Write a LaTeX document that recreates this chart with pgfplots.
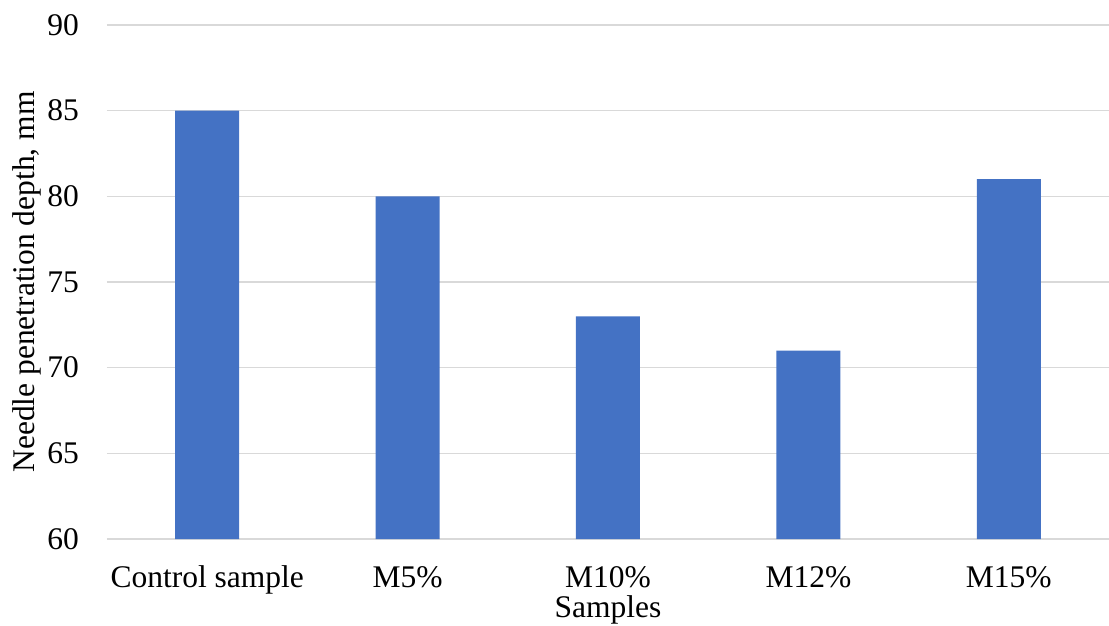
\documentclass[border=0pt]{standalone}
\usepackage{fontspec}
\setmainfont{Liberation Serif}
\usepackage{pgfplots}
\pgfplotsset{compat=1.18}
\definecolor{barblue}{HTML}{4472C4}
\definecolor{gridgray}{HTML}{D9D9D9}
\begin{document}
\fontsize{31.5}{36}\selectfont
\begin{tikzpicture}
\begin{axis}[
    scale only axis,
    width=1002pt, height=514pt,
    ybar, bar width=64pt,
    xmin=-0.5, xmax=4.5,
    ymin=60, ymax=90, ytick={60,65,...,90},
    xtick=data,
    xticklabels={Control sample, M5\%, M10\%, M12\%, M15\%},
    ymajorgrids=true,
    grid style={gridgray, line width=1.5pt},
    axis line style={draw=none},
    major tick length=0pt,
    /pgf/number format/assume math mode=true,
    tick label style={font=\fontsize{31.5}{36}\selectfont, inner sep=0pt},
    xticklabel style={anchor=base, yshift=-48.5pt},
    yticklabel style={anchor=east, xshift=-28pt},
    label style={font=\fontsize{31.5}{36}\selectfont, inner sep=0pt},
    xlabel={Samples},
    ylabel={Needle penetration depth, mm},
    xlabel style={at={(axis description cs:0.5,0)}, anchor=base, yshift=-78pt},
    ylabel style={at={(axis description cs:0,0.5)}, anchor=base, yshift=72pt},
]
\addplot[fill=barblue, draw=none] coordinates {
    (0, 85)
    (1, 80)
    (2, 73)
    (3, 71)
    (4, 81)
};
\end{axis}
\pgfresetboundingbox
\useasboundingbox (-107pt,-86pt) rectangle (1002pt,539pt);
\end{tikzpicture}
\end{document}
